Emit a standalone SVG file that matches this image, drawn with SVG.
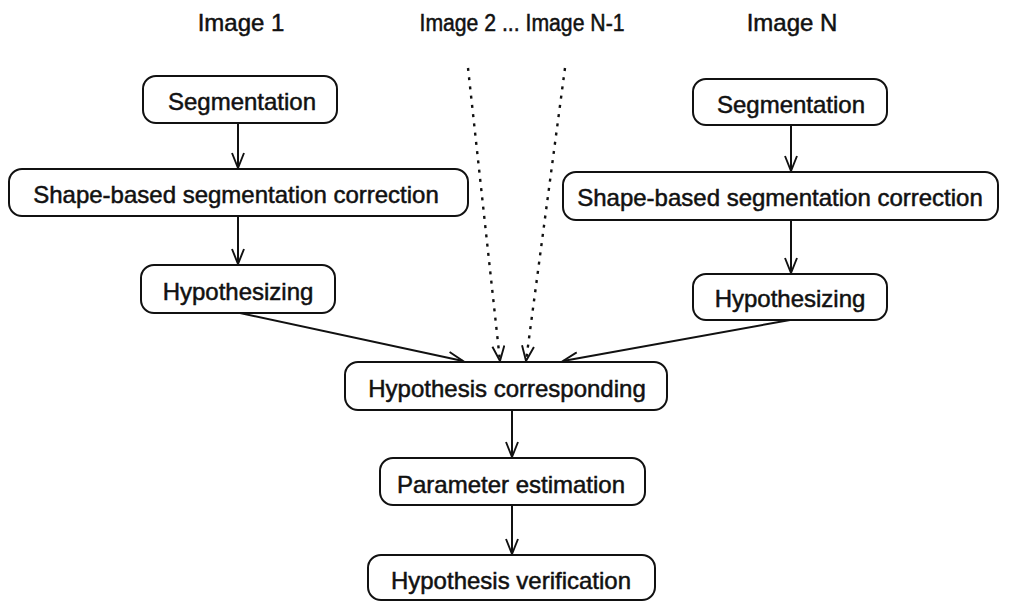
<svg xmlns="http://www.w3.org/2000/svg" width="1013" height="602" viewBox="0 0 1013 602">
<style>
.box{fill:#fff;stroke:#111;stroke-width:2}
.t{font-family:"Liberation Sans",Arial,sans-serif;font-size:24px;fill:#111;stroke:#111;stroke-width:0.5;text-anchor:middle}
.c{fill:none;stroke:#111;stroke-width:2}
.d{fill:none;stroke:#111;stroke-width:2.4;stroke-dasharray:3 6.3}
</style>
<defs>
<marker id="ah" markerUnits="userSpaceOnUse" markerWidth="18" markerHeight="14" refX="16" refY="7" orient="auto" viewBox="0 0 18 14">
<path d="M1,1 L16,7 L1,13" fill="none" stroke="#111" stroke-width="1.9"/>
</marker>
</defs>
<rect width="1013" height="602" fill="#fff"/>
<g id="titles">
<text class="t" x="241" y="31">Image 1</text>
<text class="t" x="522" y="31" style="font-size:23px" textLength="205" lengthAdjust="spacingAndGlyphs">Image 2 ... Image N-1</text>
<text class="t" x="792" y="31">Image N</text>
</g>
<g id="connectors">
<line class="c" x1="238" y1="123" x2="238" y2="168" marker-end="url(#ah)"/>
<line class="c" x1="238" y1="216" x2="238" y2="264" marker-end="url(#ah)"/>
<line class="c" x1="791" y1="125" x2="791" y2="171" marker-end="url(#ah)"/>
<line class="c" x1="791" y1="220" x2="791" y2="273" marker-end="url(#ah)"/>
<line class="c" x1="240" y1="313" x2="463" y2="361" marker-end="url(#ah)"/>
<line class="c" x1="790" y1="320" x2="563" y2="361" marker-end="url(#ah)"/>
<line class="d" x1="468" y1="68" x2="500" y2="361" marker-end="url(#ah)"/>
<line class="d" x1="565" y1="68" x2="526" y2="361" marker-end="url(#ah)"/>
<line class="c" x1="512" y1="410" x2="512" y2="457" marker-end="url(#ah)"/>
<line class="c" x1="512" y1="505" x2="512" y2="554" marker-end="url(#ah)"/>
</g>
<g id="seg1"><rect class="box" x="143" y="76" width="194" height="47" rx="13"/><text class="t" x="242" y="110">Segmentation</text></g>
<g id="shape1"><rect class="box" x="9" y="169" width="459" height="47" rx="13"/><text class="t" x="236" y="203">Shape-based segmentation correction</text></g>
<g id="hyp1"><rect class="box" x="141" y="265" width="194" height="48" rx="13"/><text class="t" x="238" y="300">Hypothesizing</text></g>
<g id="segN"><rect class="box" x="693" y="79" width="194" height="46" rx="13"/><text class="t" x="791" y="113">Segmentation</text></g>
<g id="shapeN"><rect class="box" x="563" y="172" width="435" height="48" rx="13"/><text class="t" x="780" y="206">Shape-based segmentation correction</text></g>
<g id="hypN"><rect class="box" x="693" y="274" width="194" height="46" rx="13"/><text class="t" x="790" y="307">Hypothesizing</text></g>
<g id="hcorr"><rect class="box" x="345" y="362" width="322" height="48" rx="13"/><text class="t" x="507" y="397">Hypothesis corresponding</text></g>
<g id="param"><rect class="box" x="380" y="458" width="265" height="47" rx="13"/><text class="t" x="511" y="493">Parameter estimation</text></g>
<g id="verif"><rect class="box" x="368" y="555" width="287" height="45" rx="13"/><text class="t" x="511" y="589">Hypothesis verification</text></g>
</svg>
